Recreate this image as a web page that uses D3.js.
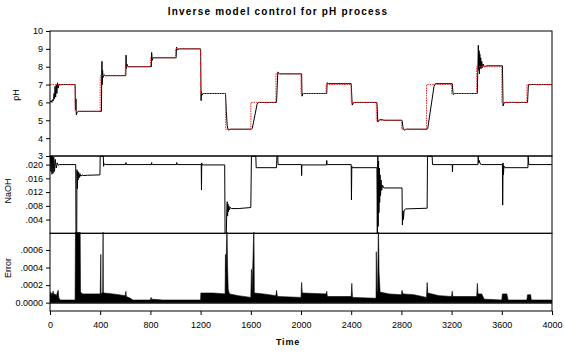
<!DOCTYPE html>
<html>
<head>
<meta charset="utf-8">
<script src="https://cdn.jsdelivr.net/npm/d3@7"></script>
<style>
  body { margin: 0; background: #fff; }
  svg text { font-family: "Liberation Sans", Arial, sans-serif; fill: #000; }
  .tick text { font-size: 9px; }
  .tick line { stroke: #000; }
</style>
</head>
<body>
<svg id="chart" width="565" height="354"></svg>
<script>
// DATA
const setpointTimes = [0, 200, 400, 600, 800, 1000, 1200, 1400, 1600, 1800, 2000, 2200, 2400, 2600, 2800, 3000, 3200, 3400, 3600, 3800, 4000];
const setpointValues = [7, 5.5, 7.5, 8, 8.5, 9, 6.5, 4.5, 6, 7.6, 6.5, 7, 6, 5, 4.5, 7, 6.5, 8, 6, 7, 7];

// pH process output [time, pH]
const phOutput = [
  [0, 6.0], [10, 6.1], [15, 6.0], [20, 6.15], [28, 6.1], [32, 6.5], [36, 6.2], [40, 6.9], [45, 6.3], [50, 7.0],
  [55, 6.5], [60, 7.1], [66, 6.8], [72, 7.0], [80, 7.0],
  [200, 7.0], [203, 5.6], [207, 6.2], [210, 5.3], [216, 5.45], [225, 5.5],
  [410, 5.5], [412, 7.3], [414, 8.3], [416, 7.0], [419, 7.8], [423, 7.4], [430, 7.55], [440, 7.5],
  [604, 7.5], [606, 8.65], [608, 7.9], [612, 8.15], [620, 8.0],
  [808, 8.0], [810, 8.8], [814, 8.35], [820, 8.5],
  [1005, 8.5], [1008, 9.1], [1015, 8.95], [1030, 9.0],
  [1200, 9.0], [1204, 6.1], [1206, 6.6], [1210, 6.4], [1220, 6.5],
  [1398, 6.5], [1405, 5.5], [1412, 4.7], [1420, 4.45], [1440, 4.5],
  [1605, 4.5], [1612, 4.55], [1650, 5.9], [1660, 6.0],
  [1805, 6.0], [1815, 7.7], [1830, 7.6],
  [2005, 7.6], [2008, 6.35], [2015, 6.5],
  [2205, 6.5], [2208, 7.1], [2220, 7.05],
  [2400, 7.05], [2408, 5.85], [2420, 6.0],
  [2605, 6.0], [2612, 4.9], [2620, 5.0], [2640, 5.05], [2660, 5.0],
  [2805, 5.0], [2815, 4.5], [2825, 4.45], [2840, 4.5],
  [3005, 4.5], [3010, 4.55], [3060, 6.9], [3070, 7.05],
  [3205, 7.05], [3212, 6.45], [3225, 6.5],
  [3405, 6.5], [3410, 8.2], [3413, 9.2], [3416, 7.8], [3419, 8.9], [3422, 7.6], [3425, 8.7], [3428, 7.9],
  [3432, 8.5], [3436, 7.9], [3440, 8.3], [3446, 7.95], [3452, 8.15], [3460, 8.0], [3480, 8.05],
  [3605, 8.05], [3610, 5.8], [3620, 6.0],
  [3805, 6.0], [3812, 7.0], [4000, 7.0]
];

// control signal [time, NaOH]
const naohInput = [
  [0, 0.0205], [4, 0.0224], [8, 0.018], [12, 0.0224], [16, 0.0172], [20, 0.0224], [25, 0.0175], [30, 0.0222],
  [36, 0.018], [42, 0.0215], [50, 0.019], [58, 0.0205], [66, 0.0198], [75, 0.020],
  [205, 0.020], [207, 0.0], [213, 0.0], [215, 0.0185], [218, 0.013], [221, 0.018], [224, 0.0155], [228, 0.0178],
  [233, 0.0162], [238, 0.0174], [245, 0.0166], [255, 0.0170], [270, 0.0168], [300, 0.0169], [398, 0.0170],
  [400, 0.0224], [425, 0.0224], [427, 0.0195], [430, 0.0203], [440, 0.0200],
  [603, 0.0200], [605, 0.0206], [607, 0.0199], [610, 0.0200],
  [808, 0.0200], [810, 0.0206], [812, 0.0199], [815, 0.0200],
  [1008, 0.0200], [1010, 0.0206], [1012, 0.0199], [1015, 0.0200],
  [1205, 0.0200], [1207, 0.0126], [1209, 0.0205], [1212, 0.0199],
  [1392, 0.0199], [1395, 0.0], [1405, 0.0], [1408, 0.006], [1412, 0.0092], [1415, 0.005], [1418, 0.0085],
  [1421, 0.0062], [1425, 0.0080], [1430, 0.0068], [1436, 0.0076], [1445, 0.0072], [1500, 0.0072], [1600, 0.0075],
  [1605, 0.0224], [1640, 0.0224], [1643, 0.0191], [1805, 0.0191], [1808, 0.0224], [1815, 0.0224], [1817, 0.0200],
  [2003, 0.0200], [2005, 0.0168], [2007, 0.0199],
  [2203, 0.0199], [2205, 0.0212], [2208, 0.0200],
  [2400, 0.0200], [2402, 0.0097], [2405, 0.0195], [2410, 0.0191],
  [2605, 0.0191], [2608, 0.0], [2612, 0.0224], [2615, 0.002], [2618, 0.021], [2621, 0.006], [2624, 0.019],
  [2627, 0.009], [2630, 0.017], [2634, 0.011], [2638, 0.0155], [2643, 0.0125], [2650, 0.014], [2660, 0.0132], [2805, 0.0132],
  [2808, 0.0024], [2812, 0.0065], [2816, 0.0040], [2822, 0.0068], [2835, 0.0071], [3005, 0.0073],
  [3008, 0.0224], [3045, 0.0224], [3048, 0.0200],
  [3205, 0.0200], [3207, 0.0179], [3209, 0.0200],
  [3410, 0.0200], [3412, 0.0224], [3416, 0.0205], [3420, 0.0212], [3430, 0.0201], [3440, 0.0200],
  [3605, 0.0200], [3607, 0.0082], [3610, 0.0205], [3613, 0.0170], [3617, 0.0196], [3625, 0.0191],
  [3808, 0.0191], [3810, 0.0224], [3815, 0.0200], [4000, 0.0200]
];

// tracking error [time, error]
const trackingError = [
  [0, 0.00009], [5, 0.00012], [10, 0.00008], [15, 0.00011], [20, 0.0001], [25, 0.00013], [30, 0.00009],
  [40, 0.0001], [50, 0.00008], [60, 0.00012], [65, 0.00014], [70, 0.00006], [80, 0.00003], [200, 0.00003],
  [203, 0.0009], [240, 0.0009], [243, 0.00012], [260, 0.0001], [330, 0.0001], [400, 0.0001],
  [405, 0.00055], [407, 0.0001], [420, 0.00012], [423, 0.0009], [425, 0.00012], [430, 0.00011], [500, 0.0001],
  [600, 0.00008], [605, 0.00013], [608, 0.00007], [640, 0.00005], [660, 0.00003], [800, 0.00003], [805, 0.00006],
  [810, 0.00004], [900, 0.00003], [1200, 0.00003],
  [1202, 0.00011], [1300, 0.00011], [1395, 0.0001], [1398, 0.00055], [1402, 0.00035], [1410, 0.0009],
  [1415, 0.0004], [1420, 0.00015], [1430, 0.0001], [1500, 0.00008], [1600, 0.00006],
  [1605, 0.00038], [1610, 0.0001], [1625, 0.0009], [1628, 0.00011], [1700, 0.0001], [1800, 0.00008],
  [1805, 0.00014], [1812, 0.00007], [2000, 0.00006],
  [2005, 0.00023], [2010, 0.00011], [2200, 0.0001], [2205, 0.00013], [2210, 0.00007], [2400, 0.00007],
  [2405, 0.00022], [2410, 0.00006], [2598, 0.00005],
  [2600, 0.00058], [2605, 0.00012], [2610, 0.00014], [2617, 0.0009], [2622, 0.00035], [2630, 0.00012],
  [2700, 0.0001], [2800, 0.00009], [2805, 0.00014], [2812, 0.0001], [2900, 0.00009], [3000, 0.00006],
  [3005, 0.00023], [3010, 0.00011], [3100, 0.00008], [3200, 0.00007], [3205, 0.00013], [3210, 0.00007],
  [3400, 0.00007], [3405, 0.00022], [3410, 0.0001], [3440, 0.0001], [3460, 0.00004], [3600, 0.00003],
  [3605, 0.0001], [3640, 0.0001], [3650, 0.00003], [3800, 0.00003], [3805, 0.00009], [3830, 0.00009],
  [3835, 0.00003], [4000, 0.00003]
];

const xTicks = [0, 400, 800, 1200, 1600, 2000, 2400, 2800, 3200, 3600, 4000];
const phTicks = [3, 4, 5, 6, 7, 8, 9, 10];
const naohTicks = [0.004, 0.008, 0.012, 0.016, 0.020];
const errorTicks = [0, 0.0002, 0.0004, 0.0006];

const left = 50, right = 552;
const panels = {
  ph: { top: 31, bottom: 156 },
  naoh: { top: 156, bottom: 233.3 },
  err: { top: 233.3, bottom: 311 }
};

const svg = d3.select("svg#chart");

// SCALES
const xScale = d3.scaleLinear().domain([0, 4000]).range([left, right]);
const phScale = d3.scaleLinear().domain([3, 10]).range([panels.ph.bottom, panels.ph.top]);
const naohScale = d3.scaleLinear().domain([0, 0.0225]).range([panels.naoh.bottom, panels.naoh.top]);
const errScale = d3.scaleLinear().domain([-0.000095, 0.00079]).range([panels.err.bottom, panels.err.top]);

// clip each panel
const defs = svg.append("defs");
Object.entries(panels).forEach(([k, p]) => {
  defs.append("clipPath").attr("id", "clip-" + k)
    .append("rect")
    .attr("x", left).attr("y", p.top - 1)
    .attr("width", right - left).attr("height", p.bottom - p.top + 1);
});

// LINES
const phLine = d3.line().x(d => xScale(d[0])).y(d => phScale(d[1]));
const spLine = d3.line().curve(d3.curveStepAfter)
  .x(d => xScale(d[0])).y(d => phScale(d[1]));
const naohLine = d3.line().x(d => xScale(d[0])).y(d => naohScale(d[1]));
const errArea = d3.area().x(d => xScale(d[0]))
  .y0(errScale(0)).y1(d => errScale(d[1]));

svg.append("path")
  .datum(phOutput)
  .attr("clip-path", "url(#clip-ph)")
  .attr("d", phLine)
  .attr("fill", "none").attr("stroke", "#000").attr("stroke-width", 1);

svg.append("path")
  .datum(setpointTimes.map((t, i) => [t, setpointValues[i]]))
  .attr("clip-path", "url(#clip-ph)")
  .attr("d", spLine)
  .attr("fill", "none").attr("stroke", "#f0282d").attr("stroke-width", 1)
  .attr("stroke-dasharray", "1.5,1");

svg.append("path")
  .datum(naohInput)
  .attr("clip-path", "url(#clip-naoh)")
  .attr("d", naohLine)
  .attr("fill", "none").attr("stroke", "#000").attr("stroke-width", 1);

svg.append("path")
  .datum(trackingError)
  .attr("clip-path", "url(#clip-err)")
  .attr("d", errArea)
  .attr("fill", "#000").attr("stroke", "#000").attr("stroke-width", 0.6);

svg.append("line")
  .attr("x1", left).attr("x2", right)
  .attr("y1", errScale(0) + 0.5).attr("y2", errScale(0) + 0.5)
  .attr("stroke", "#000");

// FRAMES
Object.values(panels).forEach(p => {
  svg.append("rect")
    .attr("x", left).attr("y", p.top)
    .attr("width", right - left).attr("height", p.bottom - p.top)
    .attr("fill", "none").attr("stroke", "#000").attr("stroke-width", 1);
});

// AXIS
const stripZero = f => d => f(d).replace(/^0\./, ".");

svg.append("g")
  .attr("transform", `translate(${left},0)`)
  .call(d3.axisLeft(phScale).tickValues(phTicks).tickSize(4).tickPadding(3).tickSizeOuter(0)
    .tickFormat(d3.format("d")))
  .call(g => g.select(".domain").remove());

svg.append("g")
  .attr("transform", `translate(${left},0)`)
  .call(d3.axisLeft(naohScale).tickValues(naohTicks).tickSize(4).tickPadding(3)
    .tickFormat(stripZero(d3.format(".3f"))))
  .call(g => g.select(".domain").remove());

svg.append("g")
  .attr("transform", `translate(${left},0)`)
  .call(d3.axisLeft(errScale).tickValues(errorTicks).tickSize(4).tickPadding(3)
    .tickFormat(d => d === 0 ? "0.0000" : stripZero(d3.format(".4f"))(d)))
  .call(g => g.select(".domain").remove());

svg.append("g")
  .attr("transform", `translate(0,${panels.err.bottom})`)
  .call(d3.axisBottom(xScale).tickValues(xTicks).tickSize(4).tickPadding(7).tickFormat(d3.format("d")))
  .call(g => g.select(".domain").remove());

// TEXT
svg.append("text")
  .attr("x", 278).attr("y", 15)
  .attr("text-anchor", "middle")
  .style("font-size", "10px").style("font-weight", "bold").style("letter-spacing", "1.2px")
  .text("Inverse model control for pH process");

svg.append("text")
  .attr("x", 288).attr("y", 345)
  .attr("text-anchor", "middle")
  .style("font-size", "9px").style("font-weight", "bold").style("letter-spacing", "0.8px")
  .text("Time");

[["pH", 19, 95], ["NaOH", 11, 191], ["Error", 11, 268]].forEach(([t, x, y]) => {
  svg.append("text")
    .attr("transform", `translate(${x},${y}) rotate(-90)`)
    .attr("text-anchor", "middle")
    .style("font-size", "9px")
    .text(t);
});
</script>
</body>
</html>
